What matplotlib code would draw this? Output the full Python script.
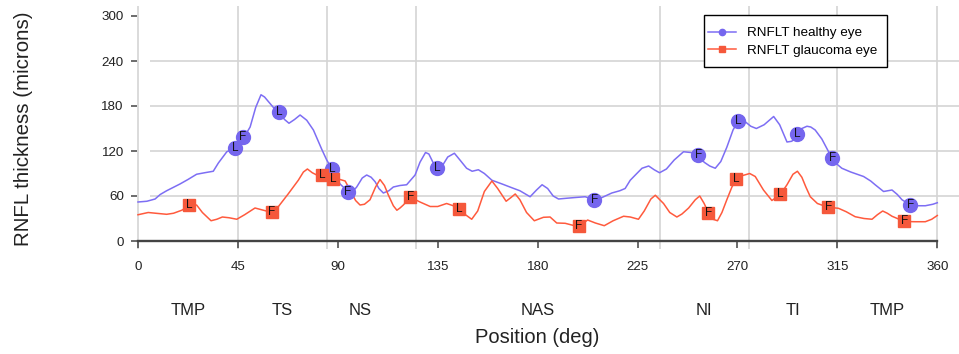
import matplotlib
matplotlib.use('Agg')
import matplotlib.pyplot as plt
from matplotlib.lines import Line2D
from matplotlib.patches import Rectangle

plt.rcParams['font.family'] = ['Liberation Sans', 'DejaVu Sans']

# ---------------- data ----------------
healthy_deg = [0, 4, 7.7, 10, 12.9, 18.9, 22.5, 26.4, 30, 33.9, 36.2, 40, 43.7, 47.3, 50.5, 53, 55.4, 57,
               58.7, 61, 63.5, 66, 68, 70.5, 73, 76, 79, 82.8, 85, 87.4, 89, 91, 94.6, 96.5, 98.5, 101,
               103, 105, 106.8, 108.5, 110.5, 113, 115, 118, 121, 124.8, 127, 129.5, 131, 133, 134.7,
               137, 139.5, 142.5, 145, 148, 150.5, 153.3, 156, 159.4, 164, 168.4, 172, 176.6, 179.5,
               182, 184.5, 187, 189.4, 193, 197, 201.4, 205.5, 209, 213.4, 217, 219.4, 221.7, 224,
               227, 230, 232.5, 234.9, 238, 241.5, 245.7, 249, 252.3, 255, 257.5, 260, 262.5, 265.2,
               268, 270.3, 273.5, 276, 278.5, 282, 286.3, 289, 292.3, 294.5, 296.9, 299, 301.3, 303,
               305, 308, 310.5, 312.7, 315, 317, 321, 326.8, 330, 332, 335.8, 339.6, 342, 344.1,
               347.8, 351, 354.6, 358, 360]
healthy_val = [52, 53, 56, 62, 67, 76, 82, 89, 91, 93, 104, 119, 124, 136, 152, 178, 195, 192,
               186, 178, 172, 162, 157, 162, 168, 161, 148, 122, 108, 96, 88, 76, 66, 65, 72, 84,
               88, 85, 79, 70, 64, 67, 72, 74, 75, 88, 105, 118, 116, 104, 97,
               100, 112, 117, 108, 97, 93, 95, 90, 81, 76, 71, 67, 59, 68,
               75, 70, 60, 56, 57, 58, 59, 55, 58, 64, 67, 70, 81, 88,
               97, 100, 95, 91, 96, 108, 119, 118, 115, 105, 100, 97, 106, 125,
               148, 160, 159, 153, 150, 155, 166, 155, 132, 133, 142, 150, 153, 152,
               148, 136, 122, 110, 102, 97, 92, 86, 80, 75, 66, 68, 62, 55,
               48, 47, 47, 49, 51]

glaucoma_deg = [0, 4.6, 8, 12.9, 16, 19.7, 23.1, 26.4, 29, 32.9, 35.5, 38, 41, 44.5, 48, 52.7, 56.5,
                60.4, 63, 67.7, 72.2, 74.5, 76.3, 78.5, 80.5, 83, 86, 88, 91, 93.3, 95.5, 98, 100,
                102, 104.5, 107, 109, 111, 112.8, 115, 116.6, 118, 119.5, 122.6, 125, 127, 131.6,
                135, 139, 142, 144.8, 147.5, 150.3, 153, 156, 159.4, 162, 165.8, 168, 169.9, 172,
                175, 178.5, 182.6, 185.6, 188.6, 192.4, 198.4, 202.5, 206, 210, 214, 218.7, 221.7,
                225.4, 228, 231, 233, 236.7, 239.5, 242.7, 245, 248, 251, 253, 255, 257, 259, 261,
                263, 265.2, 267.5, 269.4, 272, 275.5, 278, 281.7, 285.5, 289.3, 292.3, 295, 297,
                299, 300.8, 302.8, 306, 310.8, 315.5, 319, 323, 327, 330.6, 333, 335.4, 337.5,
                339.6, 342, 345.3, 350, 354.6, 357.5, 360]
glaucoma_val = [35, 38, 37, 35.6, 37, 41, 47, 48, 38, 27, 29, 32, 31, 29, 35, 44, 41,
                38, 45, 63, 81, 92, 96, 91, 88, 89, 86, 83, 82, 80, 68, 54, 48,
                49, 55, 72, 82, 74, 61, 47, 41, 44, 48, 58, 55, 52, 46,
                46, 50, 47, 42, 35, 29, 40, 66, 80, 70, 53, 58, 62.7, 55,
                38, 27, 31.6, 32, 24, 23.6, 19, 28, 24, 20.4, 27, 33, 32,
                29, 40, 56, 61, 50, 38, 32, 36, 44, 55, 60, 50, 37, 29, 27,
                38, 55, 72, 82, 87, 90, 86, 68, 54, 62, 75, 89, 93,
                85, 72, 59, 50, 45, 43.6, 39, 32.4, 30, 29, 35, 40, 37,
                33, 30, 26, 25.7, 25.7, 29, 34]

healthy_mark_deg = [43.7, 47.3, 63.5, 87.4, 94.6, 134.7, 205.5, 252.3, 270.3, 296.9, 312.7, 347.8]
healthy_mark_val = [124, 138.5, 172, 96, 65.5, 97, 55, 114.7, 159.5, 142.5, 110.5, 47.5]
healthy_mark_lab = ['L', 'F', 'L', 'L', 'F', 'L', 'F', 'F', 'L', 'L', 'F', 'F']

glaucoma_mark_deg = [23.1, 60.4, 83.0, 88.0, 122.6, 144.7, 198.4, 256.9, 269.4, 289.3, 310.9, 345.2]
glaucoma_mark_val = [47.5, 38.2, 88.5, 82.7, 58.3, 42.3, 19.5, 38.0, 83.0, 63.0, 45.0, 26.2]
glaucoma_mark_lab = ['L', 'F', 'L', 'L', 'F', 'L', 'F', 'F', 'L', 'L', 'F', 'F']

sector_names = ['TMP', 'TS', 'NS', 'NAS', 'NI', 'TI', 'TMP']
sector_pos = [22.5, 65, 100, 180, 255, 295, 337.5]
sector_bounds = [0, 45, 85, 125, 235, 275, 315, 360]
x_ticks = [0, 45, 90, 135, 180, 225, 270, 315, 360]
y_ticks = [0, 60, 120, 180, 240, 300]
grid_y = [60, 120, 180, 240]

series_names = ['RNFLT healthy eye', 'RNFLT glaucoma eye']

# ---------------- style ----------------
c_h_line = '#7d6ef4'
c_h_mark = '#7566ee'
c_g_line = '#ff5a3d'
c_g_mark = '#f5583b'
grid_c = '#d4d4d4'
axis_c = '#444444'

W, H = 959, 354
fig = plt.figure(figsize=(W / 100, H / 100), dpi=100)
ax_l, ax_r, ax_t, ax_b = 137, 959, 6, 249
ax = fig.add_axes([ax_l / W, 1 - ax_b / H, (ax_r - ax_l) / W, (ax_b - ax_t) / H])

x0px, ppd = 138.0, 799.3 / 360
y0px, ppu = 241.0, 0.75


def px2deg(p):
    return (p - x0px) / ppd


xmin, xmax = px2deg(ax_l), px2deg(ax_r)
ymin, ymax = (y0px - ax_b) / ppu, (y0px - ax_t) / ppu
ax.set_xlim(xmin, xmax)
ax.set_ylim(ymin, ymax)

# grid
ax.vlines(sector_bounds, ymin, ymax, colors=grid_c, lw=1.2, zorder=0)
ax.hlines(grid_y, px2deg(150), xmax, colors=grid_c, lw=1.2, zorder=0)

# lines
ax.plot(healthy_deg, healthy_val, color=c_h_line, lw=1.1, zorder=3, solid_joinstyle='round')
ax.plot(glaucoma_deg, glaucoma_val, color=c_g_line, lw=1.1, zorder=3, solid_joinstyle='round')

# markers with letters
ax.plot(healthy_mark_deg, healthy_mark_val, 'o', ms=10, color=c_h_mark, mec=c_h_mark, zorder=4)
for x, y, t in zip(healthy_mark_deg, healthy_mark_val, healthy_mark_lab):
    ax.text(x, y, t, ha='center', va='center', fontsize=8.5, color='#111111', zorder=5)
ax.plot(glaucoma_mark_deg, glaucoma_mark_val, 's', ms=8.8, color=c_g_mark, mec=c_g_mark, zorder=4)
for x, y, t in zip(glaucoma_mark_deg, glaucoma_mark_val, glaucoma_mark_lab):
    ax.text(x, y, t, ha='center', va='center', fontsize=8.5, color='#111111', zorder=5)

# axes styling
for s in ['top', 'right', 'left']:
    ax.spines[s].set_visible(False)
ax.spines['bottom'].set_position(('data', 0))
ax.spines['bottom'].set_bounds(0, 360)
ax.spines['bottom'].set_color(axis_c)
ax.spines['bottom'].set_linewidth(1.7)
ax.spines['bottom'].set_zorder(2)
ax.set_xticks(x_ticks)
ax.set_xticklabels([str(v) for v in x_ticks])
ax.set_yticks(y_ticks)
ax.set_yticklabels([str(v) for v in y_ticks])
ax.tick_params(axis='x', length=5, width=1.1, color=axis_c, labelsize=9.6, pad=9.5, labelcolor='#222222')
ax.tick_params(axis='y', length=4.5, width=1.1, color=axis_c, labelsize=9.6, pad=5, labelcolor='#222222')

# sector labels
for name, pos in zip(sector_names, sector_pos):
    xf = (x0px + pos * ppd) / W
    fig.text(xf, 1 - 315 / H, name, ha='center', va='baseline', fontsize=12, color='#222222')

# axis titles
fig.text((x0px + 180 * ppd) / W, 1 - 343 / H, 'Position (deg)', ha='center', va='baseline',
         fontsize=14.5, color='#222222')
fig.text(29.5 / W, 1 - 128.5 / H, 'RNFL thickness (microns)', rotation=90, rotation_mode='anchor',
         ha='center', va='baseline', fontsize=14.8, color='#222222')

# legend (frame drawn separately to match the reference padding)
ax_w, ax_h = ax_r - ax_l, ax_b - ax_t
handles = [Line2D([0], [0], color=c_h_line, lw=1.1, marker='o', ms=4.5, mfc=c_h_mark, mec=c_h_mark),
           Line2D([0], [0], color=c_g_line, lw=1.1, marker='s', ms=4.2, mfc=c_g_mark, mec=c_g_mark)]
leg = ax.legend(handles, series_names, loc='center left',
                bbox_to_anchor=((708 - ax_l) / ax_w, (ax_b - 42) / ax_h),
                fontsize=9.7, frameon=False,
                handlelength=2.08, handletextpad=0.85, borderpad=0, labelspacing=0.38,
                borderaxespad=0)
leg.set_zorder(7)
frame = Rectangle(((704 - ax_l) / ax_w, (ax_b - 67) / ax_h), (887 - 704) / ax_w, 52 / ax_h,
                  transform=ax.transAxes, facecolor='white', edgecolor='black', lw=1.0, zorder=6)
ax.add_patch(frame)

fig.savefig('out.png', dpi=100)
